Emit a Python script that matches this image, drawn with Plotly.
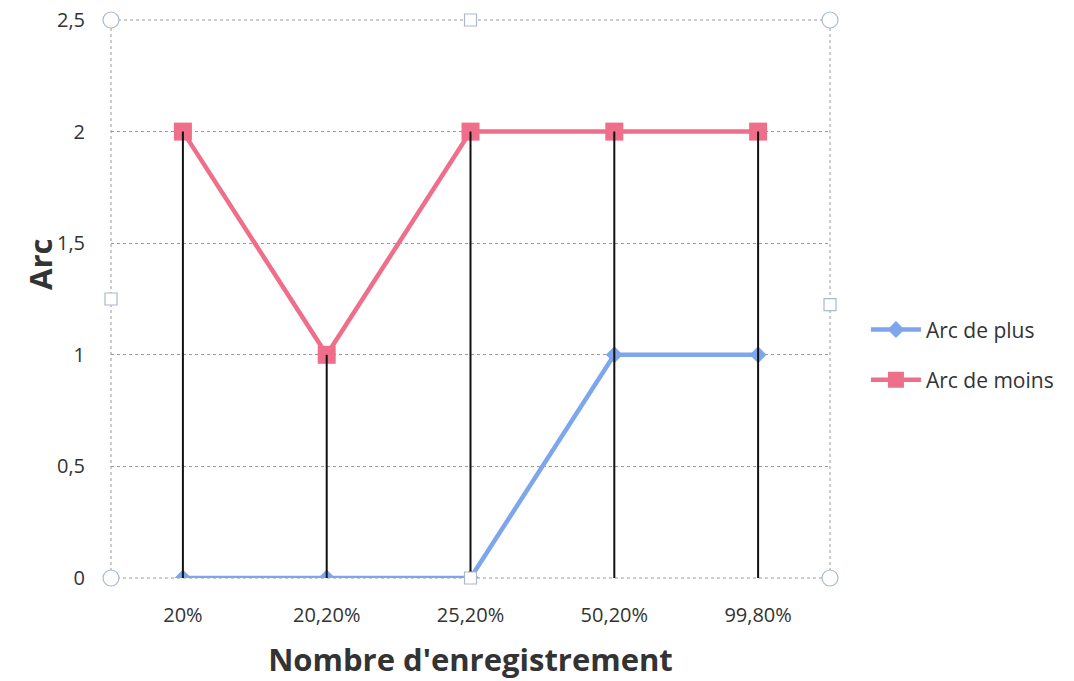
import plotly.graph_objects as go

# Categories and series values
categories = ["20%", "20,20%", "25,20%", "50,20%", "99,80%"]
arc_plus = [0, 0, 0, 1, 1]
arc_moins = [2, 1, 2, 2, 2]
y_ticks = [0, 0.5, 1, 1.5, 2, 2.5]

BLUE = "#7ea6ec"
RED = "#ef6f8a"
FONT = "Open Sans"
TEXT = "#333333"

fig = go.Figure()

fig.add_trace(go.Scatter(
    x=categories, y=arc_plus, name="Arc de plus", mode="lines+markers",
    legendgroup="plus",
    line=dict(color=BLUE, width=4.5),
    marker=dict(symbol="diamond", size=13, color=BLUE),
))
fig.add_trace(go.Scatter(
    x=categories, y=arc_moins, name="Arc de moins", mode="lines+markers",
    legendgroup="moins",
    line=dict(color=RED, width=4.5),
    marker=dict(symbol="square", size=18, color=RED),
))

# Drop lines from each point of the upper series down to the category axis
drop_x, drop_y = [], []
for c, v in zip(categories, arc_moins):
    drop_x += [c, c, None]
    drop_y += [v, 0, None]
fig.add_trace(go.Scatter(
    x=drop_x, y=drop_y, mode="lines", showlegend=False, hoverinfo="skip",
    line=dict(color="#111111", width=2),
))

# Dotted plot-area frame
fig.add_shape(type="rect", xref="paper", yref="paper", x0=0, x1=1, y0=0, y1=1,
              line=dict(color="#9a9a9a", width=1, dash="dot"), layer="below")

# Selection handles around the plot area
handle_line = dict(color="#a9b8d0", width=1.2)
for hx, hy in [(0, 0), (0, 1), (1, 0), (1, 1)]:
    fig.add_shape(type="circle", xref="paper", yref="paper", xsizemode="pixel",
                  ysizemode="pixel", xanchor=hx, yanchor=hy,
                  x0=-8, x1=8, y0=-8, y1=8, line=handle_line, fillcolor="white")
for hx, hy in [(0.5, 1), (0, 0.5), (1, 0.49), (0.5, 0)]:
    fig.add_shape(type="rect", xref="paper", yref="paper", xsizemode="pixel",
                  ysizemode="pixel", xanchor=hx, yanchor=hy,
                  x0=-6, x1=6, y0=-6, y1=6, line=handle_line, fillcolor="white")

# Vertical axis title
fig.add_annotation(text="<b>Arc</b>", xref="paper", yref="paper", x=-0.098, y=0.562,
                   textangle=-90, showarrow=False, xanchor="center", yanchor="middle",
                   font=dict(size=31, color=TEXT, family=FONT))

fig.update_layout(
    width=1074, height=681,
    margin=dict(l=111, r=244, t=20, b=103, autoexpand=False),
    paper_bgcolor="white", plot_bgcolor="white",
    separators=", ",
    font=dict(family=FONT, size=20, color=TEXT),
    legend=dict(x=1.05, y=0.40, xanchor="left", yanchor="middle",
                font=dict(size=21, color=TEXT), itemwidth=50,
                tracegroupgap=20, bgcolor="rgba(0,0,0,0)"),
    showlegend=True,
)

fig.update_xaxes(
    type="category", range=[-0.5, 4.5], showgrid=False, zeroline=False, showline=False,
    ticks="outside", ticklen=19, tickcolor="rgba(0,0,0,0)",
    tickfont=dict(size=20, color=TEXT),
    title=dict(text="<b>Nombre d'enregistrement</b>", font=dict(size=31, color=TEXT),
               standoff=22),
)
fig.update_yaxes(
    range=[0, 2.5], tickvals=y_ticks, showgrid=True, gridcolor="#9a9a9a",
    griddash="dot", gridwidth=1, zeroline=False, showline=False,
    ticks="outside", ticklen=21, tickcolor="rgba(0,0,0,0)",
    tickfont=dict(size=20, color=TEXT),
)

fig.write_html("out.html")
